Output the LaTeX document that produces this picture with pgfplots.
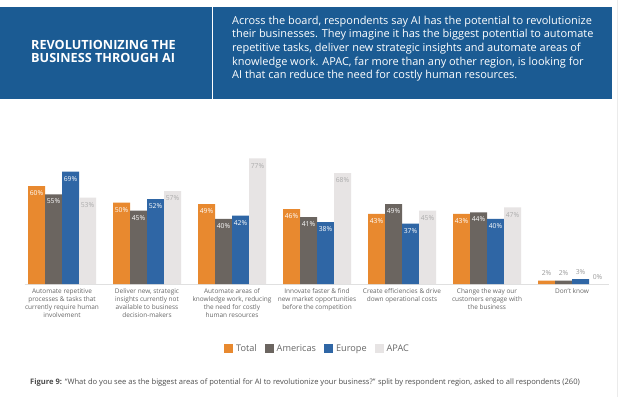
\documentclass[border=0pt]{standalone}
\usepackage{fontspec}
\setmainfont{Open Sans}
\usepackage{pgfplots}
\pgfplotsset{compat=1.18}
\definecolor{cTotal}{HTML}{E8892F}
\definecolor{cAm}{HTML}{6B6560}
\definecolor{cEu}{HTML}{2F66A5}
\definecolor{cAp}{HTML}{E7E4E4}
\definecolor{hdr}{HTML}{1B5B93}
\definecolor{txt}{HTML}{666666}
\definecolor{lowlbl}{HTML}{999999}
\definecolor{aplbl}{HTML}{ABABAB}
\begin{document}
\begin{tikzpicture}[x=1bp,y=1bp]
\useasboundingbox (0,0) rectangle (620,397);
\fill[white] (0,0) rectangle (620,397);
\fill[hdr] (0,298) rectangle (612,390);
\draw[white, line width=1.2bp] (212.5,298) -- (212.5,390);
\draw[black!8, line width=1bp] (617,0) -- (617,397);
\node[anchor=west, align=left, text=white, font=\fontsize{12.7}{13}\selectfont\bfseries, inner sep=0pt] at (31,345.5) {REVOLUTIONIZING THE\\BUSINESS THROUGH AI};
\node[anchor=north west, align=left, text=white, font=\fontsize{11}{13.75}\selectfont, inner sep=0pt] at (232,381.5) {Across the board, respondents say AI has the potential to revolutionize\\their businesses. They imagine it has the biggest potential to automate\\repetitive tasks, deliver new strategic insights and automate areas of\\knowledge work. APAC, far more than any other region, is looking for\\AI that can reduce the need for costly human resources.};
\begin{axis}[
  at={(24.6bp,113bp)}, anchor=south west, scale only axis,
  width=584.8bp, height=130.4bp,
  xmin=-0.44, xmax=6.44, ymin=0, ymax=80,
  axis line style={draw=none}, ytick=\empty, xtick={0,...,6},
  major tick length=0pt,
  xticklabels={{Automate repetitive\\processes \& tasks that\\currently require human\\involvement},
    {Deliver new, strategic\\insights currently not\\available to business\\decision-makers},
    {Automate areas of\\knowledge work, reducing\\the need for costly\\human resources},
    {Innovate faster \& find\\new market opportunities\\before the competition},
    {Create efficiencies \& drive\\down operational costs},
    {Change the way our\\customers engage with\\the business},
    {Don't know}},
  xticklabel style={align=center, font=\fontsize{6.5}{8}\selectfont, text=txt, yshift=-1bp},
  ybar=0pt, bar width=17bp,
  clip=false,
  /pgf/number format/assume math mode=true,
  visualization depends on={rawy \as \rawy},
  nodes near coords={\ifdim\rawy pt<5pt\raisebox{9.5bp}[0pt][0pt]{\textcolor{lowlbl}{\pgfmathprintnumber[fixed,precision=0,assume math mode=true]{\rawy}\%}}\else\pgfmathprintnumber[fixed,precision=0,assume math mode=true]{\rawy}\%\fi},
  every node near coord/.append style={anchor=north, yshift=-3bp, font=\fontsize{6.8}{7}\selectfont, inner sep=1.5bp},
  legend style={at={(0.5,-0.498)}, anchor=center, draw=none, fill=none, legend columns=4,
    font=\fontsize{9.2}{10}\selectfont, text=txt,
    nodes={inner sep=1bp},
    /tikz/every odd column/.append style={column sep=2bp},
    /tikz/every even column/.append style={column sep=7bp}},
  legend image code/.code={\fill[#1] (0bp,-4.5bp) rectangle (9bp,4.5bp);},
]
\draw[black!12, line width=0.8bp] (axis cs:-0.44,0) -- (axis cs:6.44,0);
\addplot[fill=cTotal, draw=none, nodes near coords style={text=white}] coordinates {(0,60) (1,50) (2,49) (3,46) (4,43) (5,43) (6,2)};
\addplot[fill=cAm, draw=none, nodes near coords style={text=white}] coordinates {(0,55) (1,45) (2,40) (3,41) (4,49) (5,44) (6,2)};
\addplot[fill=cEu, draw=none, nodes near coords style={text=white}] coordinates {(0,69) (1,52) (2,42) (3,38) (4,37) (5,40) (6,3)};
\addplot[fill=cAp, draw=none, nodes near coords style={text=aplbl}] coordinates {(0,53) (1,57) (2,77) (3,68) (4,45) (5,47) (6,0)};
\legend{Total,Americas,Europe,APAC}
\end{axis}
\node[anchor=west, inner sep=0pt, text=black!70, font=\fontsize{7.6}{8}\selectfont] at (30,14) {\textbf{Figure 9:} “What do you see as the biggest areas of potential for AI to revolutionize your business?” split by respondent region, asked to all respondents (260)};
\end{tikzpicture}
\end{document}
